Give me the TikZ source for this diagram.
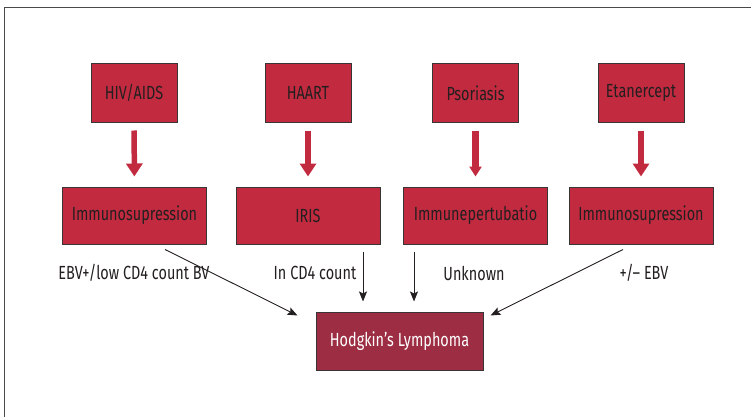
\documentclass[tikz,border=0pt]{standalone}
\usepackage{fontspec}
\setmainfont{Fira Sans}[FakeStretch=0.76]
\usetikzlibrary{arrows.meta}
\definecolor{boxred}{HTML}{C22A3F}
\definecolor{lymphred}{HTML}{9C2D42}
\definecolor{inkdark}{HTML}{231F20}
\definecolor{framegray}{HTML}{4A4A4A}
\tikzset{
  causebox/.style={draw=inkdark!90, line width=1pt, fill=boxred, text=inkdark,
    minimum width=86pt, minimum height=58pt, inner sep=0pt,
    font=\fontsize{19}{22}\selectfont},
  effectbox/.style={causebox, minimum width=144pt, minimum height=57pt},
  redarrow/.style={draw=boxred, line width=5.5pt,
    -{Triangle[length=13pt,width=16pt]}, shorten <=8pt, shorten >=10pt},
  linkarrow/.style={draw=inkdark, line width=0.9pt,
    -{Stealth[length=10pt,width=8pt,inset=2pt]}},
  linklabel/.style={text=inkdark, inner sep=0pt, font=\fontsize{19}{22}\selectfont}
}
\newcommand{\cause}[3]{%
  \node[causebox] ({#1}) at ({#2}) {#3};%
}
\newcommand{\effect}[3]{%
  \node[effectbox] ({#1}) at ({#2}) {#3};%
}

\begin{document}
\begin{tikzpicture}[x=1pt,y=-1pt]
  \useasboundingbox (0,0) rectangle (751,417);
  \draw[framegray, line width=1pt] (4.5,417) -- (4.5,8) -- (751,8);
  \cause{hiv}{134,93}{HIV/AIDS}
  \cause{haart}{308,93}{HAART}
  \cause{psor}{475.5,93}{Psoriasis}
  \cause{etan}{641,93}{Etanercept}
  \effect{imm1}{134.5,215.5}{Immunosupression}
  \effect{iris}{308,215.5}{IRIS}
  \effect{pert}{475.5,215.5}{Immunepertubatio}
  \effect{imm2}{641,215.5}{Immunosupression}
  \node[causebox, fill=lymphred, text=white, minimum width=167pt] (hl) at (399.5,341) {Hodgkin’s Lymphoma};
  \draw[redarrow] (hiv) -- (imm1);
  \draw[redarrow] (haart) -- (iris);
  \draw[redarrow, line width=7.5pt, -{Triangle[length=10pt,width=12pt]}] (psor) -- (pert);
  \draw[redarrow] (etan) -- (imm2);
  \node[linklabel] (ebv) at (134,273) {EBV+/low CD4 count BV};
  \node[linklabel] (cd4) at (315,273) {In CD4 count};
  \node[linklabel] (unk) at (474,273) {Unknown};
  \node[linklabel] (pm) at (644,273) {+/– EBV};
  \draw[linkarrow] ([shift={(30.5,5)}]imm1.south) -- ([shift={(-18,4)}]hl.north west);
  \draw[linkarrow, shorten <=7pt, shorten >=10pt] ([xshift=55pt]iris.south) -- ([xshift=55pt]iris.south |- hl.north);
  \draw[linkarrow, shorten <=7pt, shorten >=10pt] ([xshift=-61.5pt]pert.south) -- ([xshift=-61.5pt]pert.south |- hl.north);
  \draw[linkarrow] ([shift={(-18,5)}]imm2.south) -- ([shift={(7,4)}]hl.north east);
\end{tikzpicture}
\end{document}
